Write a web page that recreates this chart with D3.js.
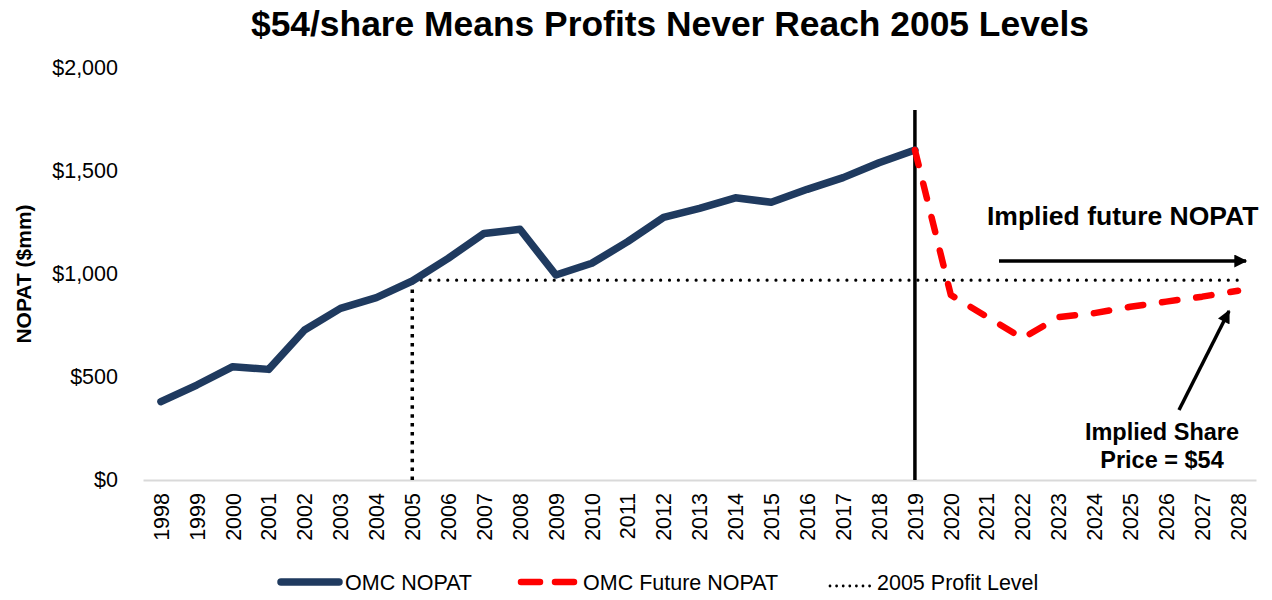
<!DOCTYPE html>
<html>
<head>
<meta charset="utf-8">
<script src="https://cdn.jsdelivr.net/npm/d3@7"></script>
<style>
  body { margin: 0; background: #fff; }
  svg { font-family: "Liberation Sans", Arial, sans-serif; }
</style>
</head>
<body>
<svg width="1272" height="600"></svg>
<script>
var years = ["1998","1999","2000","2001","2002","2003","2004","2005","2006","2007",
  "2008","2009","2010","2011","2012","2013","2014","2015","2016","2017","2018","2019",
  "2020","2021","2022","2023","2024","2025","2026","2027","2028"];

var histYears = years.slice(0, 22);
var histNopat = [380, 461, 550, 537, 728, 833, 885, 966, 1076, 1197, 1217, 995,
  1052, 1157, 1275, 1319, 1370, 1348, 1411, 1468, 1540, 1602];

var futureYears = years.slice(21);
var futureNopat = [1602, 898, 793, 688, 791, 810, 841, 866, 890, 919];

var profit2005 = 970;
var yTicks = [0, 500, 1000, 1500, 2000];

var svg = d3.select("svg");

var x = d3.scaleBand()
  .domain(years)
  .range([143, 1256]);

var y = d3.scaleLinear()
  .domain([0, 2000])
  .range([480, 68]);

function cx(d) { return x(d) + x.bandwidth() / 2; }

// arrow head
svg.append("defs").append("marker")
    .attr("id", "arrow")
    .attr("viewBox", "0 0 10 10")
    .attr("refX", 9).attr("refY", 5)
    .attr("markerUnits", "userSpaceOnUse")
    .attr("markerWidth", 14).attr("markerHeight", 13)
    .attr("orient", "auto")
  .append("path")
    .attr("d", "M0,0 L10,5 L0,10 Z")
    .attr("fill", "#000");

// Title
svg.append("text")
    .attr("x", 670)
    .attr("y", 36)
    .attr("text-anchor", "middle")
    .style("font-size", "35.4px")
    .style("font-weight", "bold")
    .text("$54/share Means Profits Never Reach 2005 Levels");

// Y axis
var yAxis = svg.append("g")
    .attr("transform", "translate(118,0)")
    .call(d3.axisLeft(y).tickValues(yTicks).tickSize(0)
      .tickFormat(function(d) { return "$" + d3.format(",")(d); }));
yAxis.select(".domain").remove();
yAxis.selectAll("text")
    .attr("x", 0)
    .style("font-size", "21.5px")
    .style("font-family", "'Liberation Sans', Arial, sans-serif")
    .attr("fill", "#000");

svg.append("text")
    .attr("transform", "translate(31," + y(1000) + ")rotate(-90)")
    .attr("text-anchor", "middle")
    .style("font-size", "21px")
    .style("font-weight", "bold")
    .text("NOPAT ($mm)");

// X axis
var xAxis = svg.append("g")
    .attr("transform", "translate(0,480)")
    .call(d3.axisBottom(x).tickSize(0).tickSizeOuter(0));
xAxis.select(".domain")
    .attr("stroke", "#d9d9d9")
    .attr("stroke-width", 2);
xAxis.selectAll("text")
    .attr("transform", "rotate(-90)")
    .attr("x", -13)
    .attr("y", 0)
    .attr("dy", "0.36em")
    .style("text-anchor", "end")
    .style("font-size", "21.5px")
    .style("font-family", "'Liberation Sans', Arial, sans-serif")
    .attr("fill", "#000");

// 2005 profit level
svg.append("line")
    .attr("x1", cx("2005")).attr("x2", cx("2005"))
    .attr("y1", y(0)).attr("y2", y(profit2005))
    .attr("stroke", "#000")
    .attr("stroke-width", 3.5)
    .attr("stroke-dasharray", "3.5 5.4");

svg.append("line")
    .attr("x1", cx("2005")).attr("x2", cx("2028"))
    .attr("y1", y(profit2005)).attr("y2", y(profit2005))
    .attr("stroke", "#000")
    .attr("stroke-width", 3.2)
    .attr("stroke-linecap", "round")
    .attr("stroke-dasharray", "0 8.87");

// 2019 divider
svg.append("line")
    .attr("x1", cx("2019")).attr("x2", cx("2019"))
    .attr("y1", y(0)).attr("y2", 110)
    .attr("stroke", "#000")
    .attr("stroke-width", 3.5);

var line = d3.line()
  .x(function(d) { return cx(d[0]); })
  .y(function(d) { return y(d[1]); });

svg.append("path")
    .datum(d3.zip(histYears, histNopat))
    .attr("d", line)
    .attr("fill", "none")
    .attr("stroke", "#1f3a5f")
    .attr("stroke-width", 7.5)
    .attr("stroke-linejoin", "round")
    .attr("stroke-linecap", "round");

svg.append("path")
    .datum(d3.zip(futureYears, futureNopat))
    .attr("d", line)
    .attr("fill", "none")
    .attr("stroke", "#ff0000")
    .attr("stroke-width", 6.5)
    .attr("stroke-linejoin", "round")
    .attr("stroke-linecap", "round")
    .attr("stroke-dasharray", "15.5 19");

// Annotations
svg.append("text")
    .attr("x", 987)
    .attr("y", 225)
    .style("font-size", "26.5px")
    .style("font-weight", "bold")
    .text("Implied future NOPAT");

svg.append("line")
    .attr("x1", 999).attr("x2", 1246)
    .attr("y1", 261).attr("y2", 261)
    .attr("stroke", "#000")
    .attr("stroke-width", 3.5)
    .attr("marker-end", "url(#arrow)");

svg.append("line")
    .attr("x1", 1179).attr("y1", 410)
    .attr("x2", 1229).attr("y2", 311)
    .attr("stroke", "#000")
    .attr("stroke-width", 3.5)
    .attr("marker-end", "url(#arrow)");

var note = svg.append("text")
    .attr("text-anchor", "middle")
    .style("font-size", "23.5px")
    .style("font-weight", "bold");
note.append("tspan").attr("x", 1162).attr("y", 440).text("Implied Share");
note.append("tspan").attr("x", 1162).attr("y", 468).text("Price = $54");

// Legend
var ly = 582;
var legend = svg.append("g").style("font-size", "21.5px");

legend.append("line")
    .attr("x1", 281).attr("x2", 339).attr("y1", ly).attr("y2", ly)
    .attr("stroke", "#1f3a5f").attr("stroke-width", 7.5)
    .attr("stroke-linecap", "round");
legend.append("text").attr("x", 345).attr("y", ly).attr("dy", "0.36em").text("OMC NOPAT");

legend.append("line")
    .attr("x1", 521).attr("x2", 576).attr("y1", ly).attr("y2", ly)
    .attr("stroke", "#ff0000").attr("stroke-width", 6.5)
    .attr("stroke-linecap", "round")
    .attr("stroke-dasharray", "19 15");
legend.append("text").attr("x", 583).attr("y", ly).attr("dy", "0.36em").text("OMC Future NOPAT");

legend.append("line")
    .attr("x1", 830).attr("x2", 873).attr("y1", ly + 4).attr("y2", ly + 4)
    .attr("stroke", "#000").attr("stroke-width", 2.8)
    .attr("stroke-linecap", "round")
    .attr("stroke-dasharray", "0 6.6");
legend.append("text").attr("x", 877).attr("y", ly).attr("dy", "0.36em").text("2005 Profit Level");
</script>
</body>
</html>
